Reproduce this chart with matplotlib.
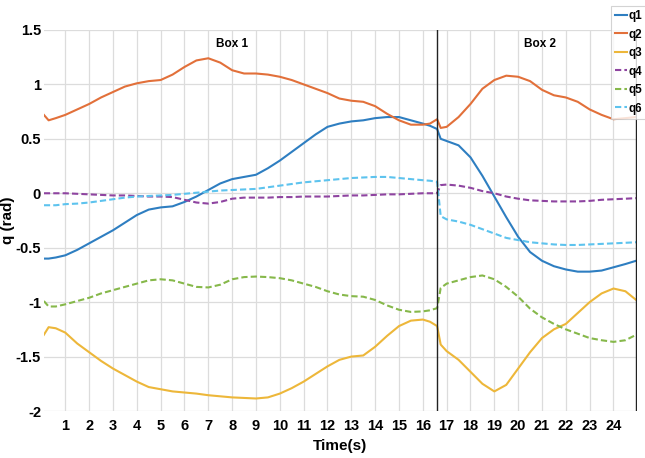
import matplotlib
matplotlib.use("Agg")
import matplotlib.pyplot as plt

plt.rcParams['font.family'] = ['Liberation Sans Narrow', 'Liberation Sans', 'DejaVu Sans']

# ---- joint angle trajectories (rad) over time (s) ----
t = [0.1, 0.3, 0.6, 1, 1.5, 2, 2.5, 3, 3.5, 4, 4.5, 5, 5.5, 6, 6.5, 7, 7.5, 8, 8.5, 9,
     9.5, 10, 10.5, 11, 11.5, 12, 12.5, 13, 13.5, 14, 14.5, 15, 15.5, 16, 16.3, 16.6,
     16.75, 17, 17.5, 18, 18.5, 19, 19.5, 20, 20.5, 21, 21.5, 22, 22.5, 23, 23.5, 24,
     24.5, 24.95]

q1 = [-0.60, -0.60, -0.59, -0.57, -0.52, -0.46, -0.40, -0.34, -0.27, -0.20, -0.15, -0.13,
      -0.12, -0.08, -0.03, 0.03, 0.09, 0.13, 0.15, 0.17, 0.23, 0.30, 0.38, 0.46, 0.54, 0.61,
      0.64, 0.66, 0.67, 0.69, 0.70, 0.70, 0.67, 0.64, 0.62, 0.59, 0.50, 0.48, 0.44, 0.33,
      0.16, -0.03, -0.22, -0.40, -0.54, -0.62, -0.67, -0.70, -0.72, -0.72, -0.71, -0.68,
      -0.65, -0.62]
q2 = [0.72, 0.67, 0.69, 0.72, 0.77, 0.82, 0.88, 0.93, 0.98, 1.01, 1.03, 1.04, 1.09, 1.16,
      1.22, 1.24, 1.20, 1.13, 1.10, 1.10, 1.09, 1.07, 1.04, 1.00, 0.96, 0.92, 0.87, 0.85,
      0.84, 0.80, 0.73, 0.67, 0.63, 0.63, 0.64, 0.68, 0.60, 0.61, 0.70, 0.82, 0.96, 1.04,
      1.08, 1.07, 1.03, 0.95, 0.90, 0.88, 0.84, 0.77, 0.72, 0.68, 0.69, 0.70]
q3 = [-1.30, -1.23, -1.24, -1.28, -1.38, -1.46, -1.54, -1.61, -1.67, -1.73, -1.78, -1.80,
      -1.82, -1.83, -1.84, -1.855, -1.865, -1.875, -1.88, -1.885, -1.875, -1.84, -1.79,
      -1.73, -1.66, -1.59, -1.53, -1.50, -1.49, -1.41, -1.31, -1.22, -1.17, -1.16, -1.18,
      -1.22, -1.39, -1.45, -1.53, -1.64, -1.75, -1.82, -1.76, -1.61, -1.46, -1.33, -1.25,
      -1.20, -1.10, -1.00, -0.92, -0.875, -0.90, -0.98]
q4 = [0.0, 0.0, 0.0, 0.0, -0.005, -0.01, -0.015, -0.02, -0.02, -0.025, -0.03, -0.03,
      -0.035, -0.06, -0.085, -0.095, -0.08, -0.05, -0.04, -0.04, -0.04, -0.035, -0.035,
      -0.03, -0.03, -0.03, -0.025, -0.02, -0.02, -0.015, -0.01, -0.01, -0.005, 0.0, 0.0,
      0.0, 0.075, 0.08, 0.07, 0.05, 0.02, 0.0, -0.03, -0.05, -0.065, -0.07, -0.075, -0.075,
      -0.075, -0.07, -0.06, -0.055, -0.05, -0.045]
q5 = [-0.99, -1.04, -1.04, -1.02, -0.99, -0.96, -0.92, -0.89, -0.86, -0.83, -0.80, -0.79,
      -0.80, -0.83, -0.86, -0.865, -0.84, -0.79, -0.77, -0.765, -0.77, -0.78, -0.80, -0.83,
      -0.86, -0.90, -0.93, -0.945, -0.95, -0.98, -1.03, -1.07, -1.09, -1.085, -1.075,
      -1.055, -0.87, -0.83, -0.80, -0.77, -0.755, -0.79, -0.86, -0.95, -1.06, -1.14, -1.20,
      -1.25, -1.29, -1.33, -1.35, -1.365, -1.35, -1.30]
q6 = [-0.11, -0.11, -0.11, -0.10, -0.095, -0.085, -0.07, -0.055, -0.04, -0.03, -0.025,
      -0.02, -0.015, -0.005, 0.005, 0.015, 0.025, 0.03, 0.035, 0.04, 0.055, 0.07, 0.085,
      0.10, 0.11, 0.12, 0.13, 0.14, 0.145, 0.15, 0.15, 0.14, 0.13, 0.12, 0.115, 0.105,
      -0.21, -0.24, -0.26, -0.29, -0.33, -0.37, -0.41, -0.43, -0.45, -0.46, -0.47, -0.475,
      -0.475, -0.47, -0.465, -0.46, -0.455, -0.45]

labels = ["q1", "q2", "q3", "q4", "q5", "q6"]
colors = ["#2E7EC1", "#E2703A", "#EDB73A", "#8E44A0", "#86B84A", "#5DC3EE"]
styles = ["-", "-", "-", (0, (3, 1.5)), (0, (3, 1.5)), (0, (3, 1.5))]
box_edges = [16.6, 24.93]
box_names = ["Box 1", "Box 2"]
box_label_x = [8.0, 20.9]

fig = plt.figure(figsize=(6.45, 4.58), dpi=100)
ax = fig.add_axes([0.068, 0.1026, 0.919, 0.832])

for q, lab, c, ls in zip([q1, q2, q3, q4, q5, q6], labels, colors, styles):
    ax.plot(t, q, color=c, linestyle=ls, linewidth=1.5, label=lab)

for xe in box_edges:
    ax.axvline(xe, color="#222222", linewidth=1.0)
for xb, name in zip(box_label_x, box_names):
    ax.text(xb, 1.37, name, ha="center", va="center", fontsize=8.5, fontweight="bold")

ax.set_xlim(0.1, 24.97)
ax.set_ylim(-2, 1.5)
ax.set_xticks(range(1, 25))
ax.set_yticks([-2, -1.5, -1, -0.5, 0, 0.5, 1, 1.5])
ax.set_yticklabels(["-2", "-1.5", "-1", "-0.5", "0", "0.5", "1", "1.5"])
ax.grid(True, color="#dcdcdc", linewidth=0.9)
ax.set_axisbelow(True)
for s in ax.spines.values():
    s.set_visible(False)
ax.tick_params(axis="x", length=0, labelsize=10.5, pad=6)
ax.tick_params(axis="y", length=0, labelsize=10.5, pad=2)
for lbl in ax.get_xticklabels() + ax.get_yticklabels():
    lbl.set_fontweight("bold")

ax.set_xlabel("Time(s)", fontsize=11, fontweight="bold", labelpad=4)
ax.set_ylabel("q (rad)", fontsize=11, fontweight="bold", labelpad=2)
ax.yaxis.set_label_coords(-0.048, 0.5)

# legend hugs the right edge, box runs past the figure border
leg = fig.legend(loc="upper left", bbox_to_anchor=(611 / 645, 1 - 6 / 458),
                 fontsize=8.5, handlelength=1.0, handletextpad=0.15, labelspacing=0.55,
                 borderpad=0.35, borderaxespad=0, frameon=True, fancybox=False)
leg.get_frame().set_edgecolor("#c8c8c8")
leg.get_frame().set_linewidth(0.8)
for txt in leg.get_texts():
    txt.set_fontweight("bold")

fig.savefig("out.png", dpi=100)
